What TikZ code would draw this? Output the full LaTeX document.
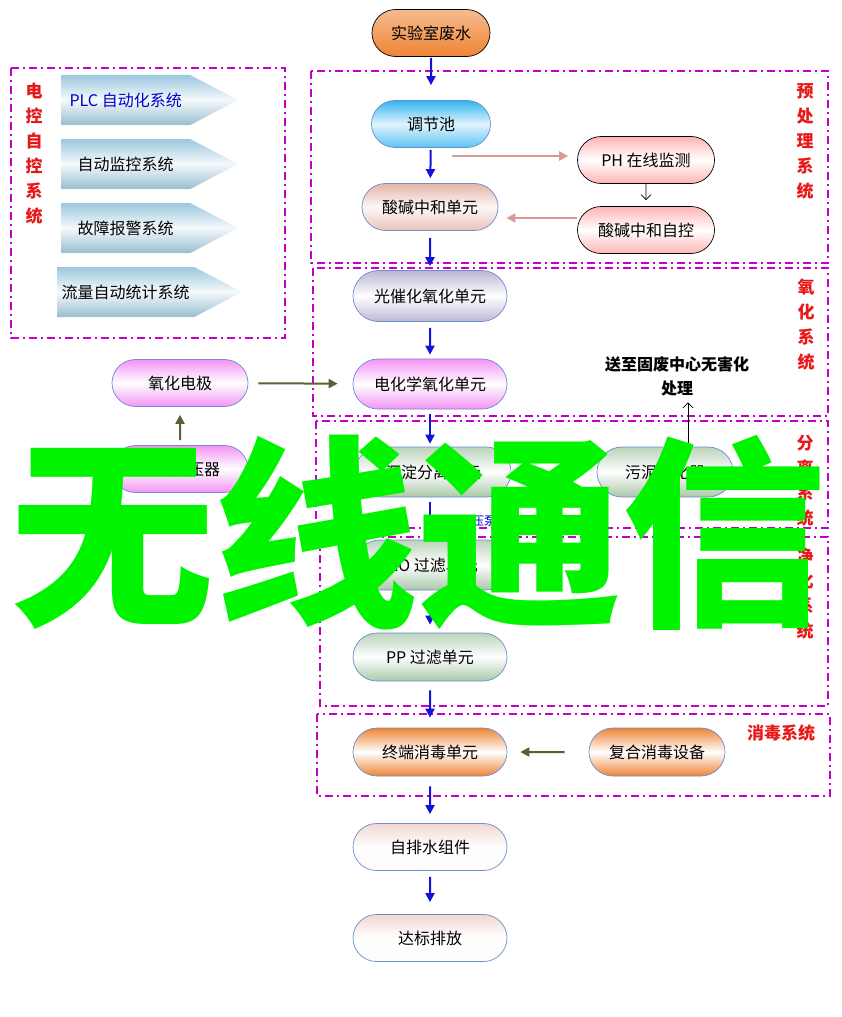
\documentclass[tikz,border=0pt]{standalone}
\usepackage{fontspec}
\setmainfont{Noto Sans CJK SC}
\usetikzlibrary{shapes.misc,shapes.symbols,arrows.meta}
\definecolor{zonepurple}{HTML}{C400C8}
\definecolor{flowblue}{HTML}{1212D8}
\definecolor{feedolive}{HTML}{566232}
\definecolor{rosy}{HTML}{D89A98}
\definecolor{labelred}{HTML}{E81818}
\definecolor{pillorange}{HTML}{EE8434}
\definecolor{pillblue}{HTML}{34B4F0}
\definecolor{pilltan}{HTML}{E6B4A8}
\definecolor{pillpink}{HTML}{FFB4B4}
\definecolor{pilllilac}{HTML}{BEB6D6}
\definecolor{pillmagenta}{HTML}{F494F4}
\definecolor{pillsage}{HTML}{AAC8AA}
\definecolor{pillblush}{HTML}{F2D8D0}
\definecolor{signalblue}{HTML}{9CC8DE}
\definecolor{edgeblue}{HTML}{6A8CD0}
\definecolor{wmgreen}{HTML}{00F400}
\tikzset{
        pill/.style={rounded rectangle, draw=edgeblue, line width=0.7pt, minimum width=158pt, minimum height=48pt, inner sep=2pt, font=\fontsize{16}{16}\selectfont},
        orangepill/.style={pill, top color=pillorange, bottom color=pillorange, middle color=white},
        bluepill/.style={pill, top color=pillblue, bottom color=pillblue!80, middle color=white!85!pillblue},
        tanpill/.style={pill, top color=pilltan, bottom color=pilltan!80, middle color=white!90!pilltan},
        pinkpill/.style={pill, draw=black, top color=pillpink, bottom color=pillpink, middle color=white},
        lilacpill/.style={pill, top color=pilllilac, bottom color=pilllilac, middle color=white},
        magentapill/.style={pill, top color=pillmagenta, bottom color=pillmagenta, middle color=white},
        sagepill/.style={pill, top color=pillsage!80, bottom color=pillsage, middle color=white},
        blushpill/.style={pill, top color=pillblush, bottom color=white!90!pillblush, middle color=white},
        signalbox/.style={signal, signal to=east, signal pointer angle=55, minimum width=177pt, minimum height=50pt, inner sep=2pt, top color=signalblue, bottom color=signalblue!85!gray, middle color=white!90!signalblue, font=\fontsize{16}{16}\selectfont, anchor=west},
        zone/.style={draw=zonepurple, line width=1.6pt, dash pattern=on 8pt off 4pt on 2pt off 4pt},
        zonelabel/.style={text=labelred, align=center, font=\fontsize{17}{25}\selectfont\bfseries},
        flow/.style={draw=flowblue, line width=2pt, -{Triangle[length=9pt,width=9pt]}},
        feed/.style={draw=feedolive, line width=2pt, -{Triangle[length=9pt,width=9pt]}},
        ctrl/.style={draw=rosy, line width=2pt, -{Triangle[length=9pt,width=9pt]}},
        hairline/.style={draw=black, line width=0.7pt, -{Straight Barb[length=5pt,width=10pt]}},
        watermark/.style={text=wmgreen, font=\fontsize{204}{204}\selectfont\bfseries, inner sep=0pt}
          }
\begin{document}
\begin{tikzpicture}[x=1pt, y=-1pt]
\useasboundingbox (0,0) rectangle (841,1017);
\draw[zone] (11,68) rectangle (285,338);
\draw[zone] (311,71) rectangle (828,263);
\draw[zone] (313,268) rectangle (828,416);
\draw[zone] (316,421) rectangle (828,528);
\draw[zone] (320,537) rectangle (828,706);
\draw[zone] (317,714) rectangle (830,796);
\node[zonelabel] (ctrllbl) at (34,154) {电\\控\\自\\控\\系\\统};
\node[zonelabel] (prelbl) at (805,141) {预\\处\\理\\系\\统};
\node[zonelabel] (oxilbl) at (806,325) {氧\\化\\系\\统};
\node[zonelabel] (seplbl) at (805,481) {分\\离\\系\\统};
\node[zonelabel] (purlbl) at (805,594) {净\\化\\系\\统};
\node[zonelabel] (dislbl) at (781,733) {消毒系统};
\node[signalbox, text=blue!80!black] (plc) at (61,100) {PLC 自动化系统};
\node[signalbox] (monitor) at (61,164) {自动监控系统};
\node[signalbox] (alarm) at (61,228) {故障报警系统};
\node[signalbox, minimum width=185pt] (meter) at (57,292) {流量自动统计系统};
\node[orangepill, draw=black, top color=pillorange!55, minimum width=122pt, minimum height=47pt] (waste) at (431,33) {实验室废水};
\node[bluepill, minimum width=123pt, minimum height=47pt] (tank) at (431,124) {调节池};
\node[tanpill, minimum width=140pt, minimum height=47pt] (neut) at (430,207) {酸碱中和单元};
\node[pinkpill, minimum width=141pt, minimum height=47pt] (ph) at (646,160) {PH 在线监测};
\node[pinkpill, minimum width=141pt, minimum height=47pt] (auto) at (646,230) {酸碱中和自控};
\node[lilacpill, minimum height=51pt] (photo) at (430,296) {光催化氧化单元};
\node[magentapill, minimum height=50pt] (electro) at (430,384) {电化学氧化单元};
\node[magentapill, minimum width=140pt, minimum height=47pt] (electrode) at (180,383) {氧化电极};
\node[magentapill, minimum width=140pt, minimum height=47pt] (transf) at (180,469) {电流变压器};
\node[font=\fontsize{16}{24}\selectfont\bfseries, align=center] (dispose) at (677,376) {送至固废中心无害化\\处理};
\node[sagepill, minimum width=160pt, minimum height=50pt] (settle) at (433,472) {沉淀分离单元};
\node[sagepill, minimum width=140pt, minimum height=50pt] (sludge) at (665,472) {污泥干化器};
\node[text=blue!80!black, font=\fontsize{12}{12}\selectfont, inner sep=0pt] (pump) at (478,521) {增压泵};
\node[sagepill, minimum width=160pt, minimum height=50pt] (ro) at (433,565) {RO 过滤单元};
\node[sagepill, minimum height=48pt] (pp) at (430,657) {PP 过滤单元};
\node[orangepill, minimum height=48pt] (term) at (430,752) {终端消毒单元};
\node[orangepill, minimum width=140pt, minimum height=48pt] (combo) at (657,752) {复合消毒设备};
\node[blushpill, minimum height=47pt] (drain) at (430,847) {自排水组件};
\node[blushpill, minimum height=47pt] (outlet) at (430,938) {达标排放};
\draw[flow, shorten <=1pt, shorten >=15pt] (waste) -- (tank);
\draw[flow, shorten <=2pt, shorten >=5pt] (tank) -- (neut);
\draw[flow, shorten <=7pt, shorten >=4pt] (neut) -- (photo);
\draw[flow, shorten <=6pt, shorten >=4pt] (photo) -- (electro);
\draw[flow, shorten <=5pt, shorten >=3pt] (electro.south) -- (electro.south |- settle.north);
\draw[flow, shorten <=5pt, shorten >=5pt] (electro.south |- settle.south) -- (electro.south |- ro.north);
\draw[flow, shorten <=7pt, shorten >=8pt] (electro.south |- ro.south) -- (pp);
\draw[flow, shorten <=9pt, shorten >=10pt] (pp) -- (term);
\draw[flow, shorten <=10pt, shorten >=9pt] (term) -- (drain);
\draw[flow, shorten <=6pt, shorten >=12pt] (drain) -- (outlet);
\coordinate (phtap) at (452,156);
\draw[ctrl, shorten >=9pt] (phtap) -- (phtap -| ph.west);
\draw[hairline, shorten >=6pt] (ph) -- (auto);
\draw[ctrl, shorten >=8pt] ([yshift=12pt]auto.west) -- ([yshift=12pt]auto.west -| neut.east);
\draw[feed, shorten <=10pt, shorten >=15pt] (electrode) -- (electro);
\draw[feed, shorten <=5pt, shorten >=8pt] (transf) -- (electrode);
\draw[feed, shorten <=24pt, shorten >=13pt] (combo) -- (term);
\draw[hairline, shorten >=3pt] ([xshift=23pt]sludge.north) -- ([xshift=23pt]sludge.north |- dispose.south);
\node[watermark] (wm) at (418,533) {无线通信};
\end{tikzpicture}
\end{document}
